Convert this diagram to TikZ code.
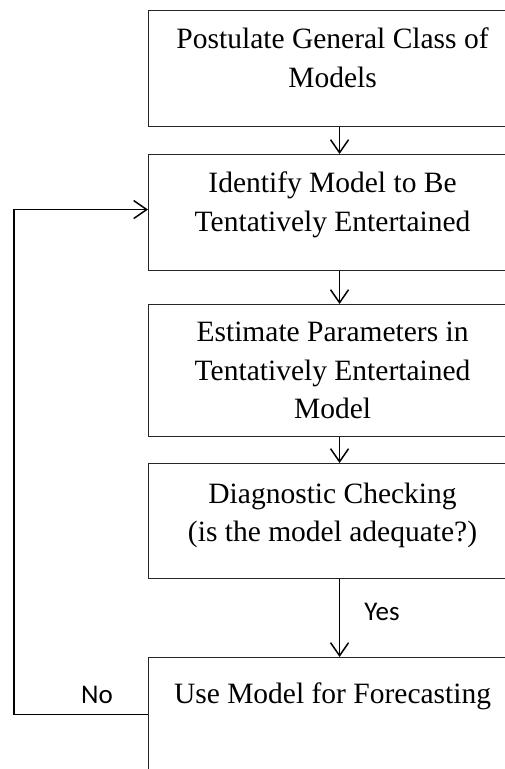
\documentclass[tikz,border=0pt]{standalone}
\usepackage{fontspec}
\setmainfont{Liberation Serif}
\newfontfamily\labelfont{Carlito}
\usetikzlibrary{arrows.meta}
\begin{document}
\begin{tikzpicture}[x=1pt,y=-1pt,
  stage/.style={draw=black!85, line width=1.1pt, minimum width=368pt, inner sep=0pt, anchor=north west},
  caption/.style={anchor=north, inner sep=0pt, align=center, font=\fontsize{29.5}{38.5}\selectfont},
  flow/.style={line width=1.5pt, -{Straight Barb[length=13pt,width=18pt,line width=1.5pt]}},
  tag/.style={font=\labelfont\fontsize{27}{32}\selectfont, inner sep=0pt, anchor=base}]
\useasboundingbox (0,0) rectangle (505,769);
\clip (0,0) rectangle (505,769);

% process stages
\node[stage, minimum height=116pt] (b1) at (148,10)  {};
\node[stage, minimum height=116pt] (b2) at (148,154) {};
\node[stage, minimum height=132pt] (b3) at (148,304) {};
\node[stage, minimum height=115pt] (b4) at (148,463) {};
\node[stage, minimum height=114pt] (b5) at (148,657) {};

% stage texts, set from the top of each box
\node[caption] (t1) at ([yshift=-18pt]b1.north) {Postulate General Class of\\Models};
\node[caption] (t2) at ([yshift=-18pt]b2.north) {Identify Model to Be\\Tentatively Entertained};
\node[caption] (t3) at ([yshift=-18pt]b3.north) {Estimate Parameters in\\Tentatively Entertained\\Model};
\node[caption] (t4) at ([yshift=-19.5pt]b4.north) {Diagnostic Checking\\(is the model adequate?)};
\node[caption] (t5) at ([yshift=-26pt]b5.north) {Use Model for Forecasting};

% forward flow
\draw[flow] ([xshift=7pt]b1.south) -- ([xshift=7pt]b2.north);
\draw[flow] ([xshift=7pt]b2.south) -- ([xshift=7pt]b3.north);
\draw[flow] ([xshift=7pt]b3.south) -- ([xshift=7pt]b4.north);
\draw[flow] ([xshift=7pt]b4.south) -- ([xshift=7pt]b5.north);

% feedback loop
\coordinate (bend) at (14,0);
\draw[flow] (b5.west) -- (b5.west -| bend) |- ([yshift=3pt]b2.west);

% decision labels
\node[tag] (yes) at (382,620) {Yes};
\node[tag] (no) at (97,703) {No};
\end{tikzpicture}
\end{document}
